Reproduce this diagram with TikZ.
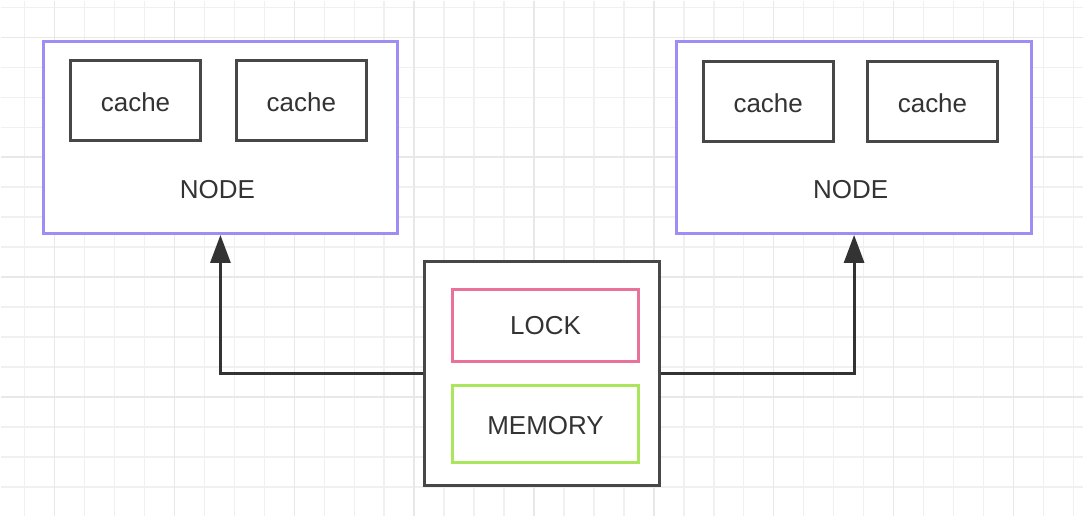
\documentclass[tikz,border=0pt]{standalone}
\usepackage{fontspec}
\setmainfont{Liberation Sans}
\usetikzlibrary{arrows.meta}

\definecolor{gridminor}{HTML}{F0F0F0}
\definecolor{gridmajor}{HTML}{E8E8E8}
\definecolor{nodepurple}{HTML}{A08CF5}
\definecolor{lockpink}{HTML}{EA7199}
\definecolor{memgreen}{HTML}{A9E65C}
\definecolor{ink}{HTML}{333333}

\tikzset{
  box/.style = {draw, fill=white, line width=2.25pt, text=ink,
                font=\fontsize{19.5}{22}\selectfont, inner sep=0pt},
  cachebox/.style = {box, draw=ink!90, minimum width=97.5pt, minimum height=60pt,
                     text height=16pt, text depth=0pt},
  nodebox/.style = {box, draw=nodepurple, minimum width=266pt, minimum height=144pt},
  link/.style = {line width=2.25pt, draw=ink, -{Triangle[length=21pt, width=15pt]}}
}

\begin{document}
\begin{tikzpicture}[x=0.75pt, y=-0.75pt]
    \fill [white] (0, 0) rectangle (1084, 516);
    % background grid
    \foreach \x in {24, 54, ..., 1074} {
      \draw [gridminor, line width=1.1pt] (\x, 0) -- (\x, 516);
    }
    \foreach \y in {6.7, 36.7, ..., 516} {
      \draw [gridminor, line width=1.1pt] (0, \y) -- (1084, \y);
    }
    \foreach \x in {54, 174, ..., 1074} {
      \draw [gridmajor, line width=1.1pt] (\x, 0) -- (\x, 516);
    }
    \foreach \y in {36.7, 156.7, ..., 516} {
      \draw [gridmajor, line width=1.1pt] (0, \y) -- (1084, \y);
    }

    \node [nodebox] (nodeL) at (220, 137) {};
    \node [nodebox] (nodeR) at (854.5, 137) {};
    \node [text=ink, font=\fontsize{19.5}{22}\selectfont] (labelL) at (217, 189) {NODE};
    \node [text=ink, font=\fontsize{19.5}{22}\selectfont] (labelR) at (851, 189) {NODE};

    \node [cachebox] (cacheLa) at (135, 100) {cache};
    \node [cachebox] (cacheLb) at (301, 100) {cache};
    \node [cachebox] (cacheRa) at (768.5, 101) {cache};
    \node [cachebox] (cacheRb) at (933, 101) {cache};

    \node [box, draw=ink!90, minimum width=177pt, minimum height=168.5pt] (host) at (542, 373.5) {};
    \node [box, draw=lockpink, minimum width=139pt, minimum height=54pt] (lock) at (545.5, 325) {LOCK};
    \node [box, draw=memgreen, minimum width=139pt, minimum height=58pt,
           text height=16pt, text depth=0pt] (mem) at (545.5, 423.5) {MEMORY};

    \draw [link] (host.west) -| (nodeL.south);
    \draw [link] (host.east) -| (nodeR.south);
\end{tikzpicture}
\end{document}
